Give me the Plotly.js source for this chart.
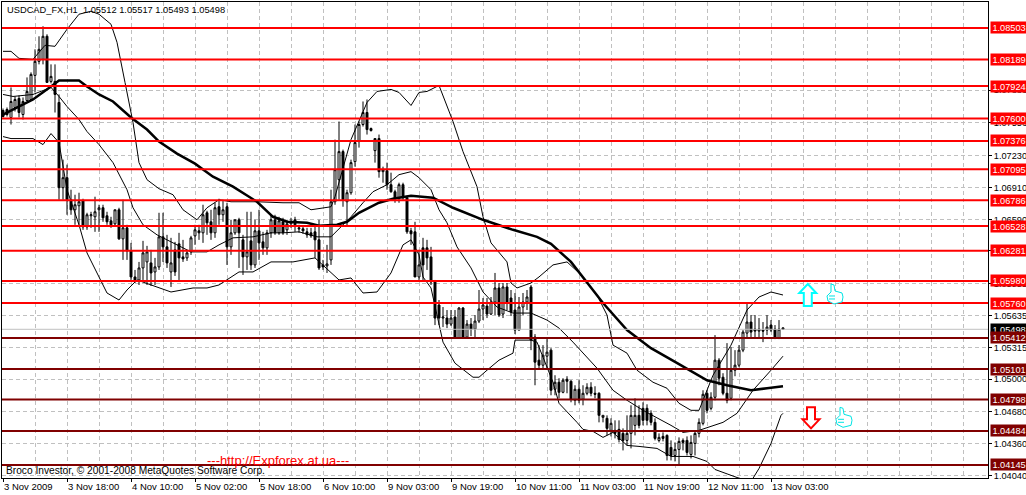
<!DOCTYPE html>
<html>
<head>
<meta charset="utf-8">
<script src="https://cdn.plot.ly/plotly-3.0.1.min.js"></script>
<style>
html, body { margin: 0; padding: 0; background: #fff; overflow: hidden; }
#graph { width: 1026px; height: 495px; }
</style>
</head>
<body>
<div id="graph"></div>
<script>
// hourly candles
var openPrice = [
1.0768,1.0769,1.0761,1.0771,1.0780,1.0764,1.0778,1.0779,1.0803,1.0817,
1.0819,1.0842,1.0797,1.0797,1.0776,1.0691,1.0701,1.0679,1.0669,1.0673,
1.0678,1.0652,1.0663,1.0662,1.0669,1.0671,1.0663,1.0658,1.0655,1.0669,
1.0640,1.0651,1.0628,1.0602,1.0599,1.0611,1.0617,1.0616,1.0607,1.0612,
1.0642,1.0632,1.0607,1.0629,1.0635,1.0622,1.0621,1.0627,1.0643,1.0648,
1.0646,1.0666,1.0657,1.0646,1.0672,1.0664,1.0672,1.0632,1.0646,1.0659,
1.0639,1.0622,1.0638,1.0614,1.0648,1.0637,1.0631,1.0646,1.0659,1.0646,
1.0657,1.0649,1.0655,1.0659,1.0651,1.0650,1.0647,1.0646,1.0647,1.0639,
1.0614,1.0613,1.0619,1.0677,1.0699,1.0727,1.0677,1.0686,1.0717,1.0737,
1.0754,1.0766,1.0750,1.0728,1.0740,1.0707,1.0708,1.0694,1.0687,1.0681,
1.0694,1.0681,1.0648,1.0647,1.0602,1.0631,1.0631,1.0622,1.0597,1.0574,
1.0561,1.0561,1.0555,1.0562,1.0541,1.0571,1.0542,1.0555,1.0550,1.0558,
1.0570,1.0573,1.0565,1.0577,1.0591,1.0565,1.0592,1.0581,1.0569,1.0549,
1.0572,1.0577,1.0592,1.0542,1.0519,1.0514,1.0523,1.0529,1.0490,1.0497,
1.0487,1.0500,1.0498,1.0479,1.0490,1.0480,1.0486,1.0492,1.0486,1.0486,
1.0462,1.0461,1.0449,1.0449,1.0450,1.0446,1.0439,1.0446,1.0454,1.0464,
1.0471,1.0471,1.0466,1.0457,1.0439,1.0443,1.0444,1.0432,1.0424,1.0430,
1.0439,1.0439,1.0425,1.0436,1.0446,1.0456,1.0486,1.0471,1.0482,1.0519,
1.0502,1.0486,1.0481,1.0509,1.0514,1.0529,1.0546,1.0557,1.0550,1.0548,
1.0549,1.0549,1.0554,1.0550,1.0541,1.05512
];
var highPrice = [
1.0770,1.0771,1.0791,1.0782,1.0783,1.0781,1.0801,1.0806,1.0829,1.0842,
1.0852,1.0844,1.0814,1.0814,1.0784,1.0719,1.0714,1.0689,1.0684,1.0686,
1.0680,1.0666,1.0667,1.0682,1.0674,1.0674,1.0667,1.0662,1.0669,1.0671,
1.0679,1.0654,1.0636,1.0609,1.0617,1.0638,1.0633,1.0629,1.0621,1.0666,
1.0666,1.0644,1.0641,1.0637,1.0646,1.0639,1.0629,1.0643,1.0654,1.0654,
1.0674,1.0668,1.0669,1.0676,1.0680,1.0679,1.0676,1.0659,1.0659,1.0661,
1.0644,1.0667,1.0667,1.0659,1.0669,1.0647,1.0649,1.0664,1.0664,1.0662,
1.0661,1.0659,1.0661,1.0662,1.0654,1.0653,1.0651,1.0651,1.0653,1.0659,
1.0619,1.0634,1.0689,1.0739,1.0757,1.0729,1.0689,1.0719,1.0754,1.0757,
1.0777,1.0779,1.0751,1.0740,1.0744,1.0712,1.0716,1.0706,1.0689,1.0696,
1.0696,1.0683,1.0651,1.0657,1.0629,1.0641,1.0639,1.0632,1.0599,1.0579,
1.0572,1.0569,1.0569,1.0569,1.0572,1.0572,1.0559,1.0561,1.0564,1.0589,
1.0581,1.0581,1.0582,1.0606,1.0596,1.0596,1.0596,1.0589,1.0586,1.0582,
1.0586,1.0589,1.0594,1.0545,1.0534,1.0534,1.0540,1.0531,1.0504,1.0501,
1.0501,1.0503,1.0499,1.0494,1.0499,1.0494,1.0496,1.0497,1.0493,1.0487,
1.0464,1.0464,1.0461,1.0459,1.0459,1.0451,1.0464,1.0474,1.0481,1.0474,
1.0477,1.0475,1.0469,1.0461,1.0446,1.0447,1.0445,1.0439,1.0437,1.0442,
1.0441,1.0443,1.0444,1.0449,1.0461,1.0489,1.0489,1.0487,1.0544,1.0521,
1.0506,1.0536,1.0532,1.0529,1.0534,1.0549,1.0575,1.0564,1.0564,1.0561,
1.0557,1.0564,1.0559,1.0554,1.0559,1.05517
];
var lowPrice = [
1.0761,1.0762,1.0754,1.0767,1.0761,1.0759,1.0778,1.0779,1.0786,1.0814,
1.0814,1.0796,1.0795,1.0766,1.0679,1.0679,1.0664,1.0664,1.0654,1.0654,
1.0649,1.0649,1.0651,1.0647,1.0647,1.0657,1.0654,1.0651,1.0653,1.0639,
1.0619,1.0619,1.0599,1.0596,1.0594,1.0599,1.0594,1.0593,1.0594,1.0609,
1.0617,1.0611,1.0592,1.0603,1.0599,1.0617,1.0618,1.0624,1.0634,1.0639,
1.0636,1.0644,1.0639,1.0641,1.0654,1.0657,1.0614,1.0624,1.0644,1.0611,
1.0604,1.0609,1.0609,1.0611,1.0619,1.0624,1.0624,1.0641,1.0644,1.0644,
1.0644,1.0644,1.0651,1.0647,1.0646,1.0645,1.0641,1.0641,1.0621,1.0609,
1.0609,1.0606,1.0614,1.0674,1.0679,1.0672,1.0653,1.0684,1.0712,1.0731,
1.0752,1.0744,1.0747,1.0716,1.0701,1.0696,1.0689,1.0686,1.0676,1.0676,
1.0679,1.0645,1.0634,1.0602,1.0599,1.0599,1.0609,1.0594,1.0554,1.0554,
1.0552,1.0551,1.0553,1.0541,1.0541,1.0541,1.0541,1.0543,1.0542,1.0556,
1.0559,1.0561,1.0564,1.0564,1.0562,1.0561,1.0569,1.0563,1.0545,1.0549,
1.0564,1.0569,1.0529,1.0494,1.0511,1.0511,1.0511,1.0484,1.0484,1.0481,
1.0486,1.0486,1.0477,1.0474,1.0476,1.0474,1.0484,1.0483,1.0481,1.0457,
1.0457,1.0444,1.0443,1.0441,1.0437,1.0429,1.0434,1.0431,1.0444,1.0451,
1.0454,1.0454,1.0454,1.0439,1.0437,1.0438,1.0419,1.0419,1.0418,1.0414,
1.0429,1.0424,1.0421,1.0424,1.0442,1.0454,1.0466,1.0469,1.0479,1.0494,
1.0484,1.0476,1.0479,1.0503,1.0512,1.0527,1.0542,1.0542,1.0542,1.0542,
1.0537,1.0544,1.0547,1.0540,1.0540,1.05493
];
var closePrice = [
1.0762,1.0764,1.0777,1.0779,1.0766,1.0777,1.0787,1.0804,1.0817,1.0829,
1.0842,1.0796,1.0802,1.0784,1.0691,1.0701,1.0679,1.0669,1.0674,1.0677,
1.0652,1.0664,1.0664,1.0667,1.0671,1.0661,1.0657,1.0654,1.0669,1.0640,
1.0651,1.0628,1.0602,1.0599,1.0611,1.0626,1.0627,1.0606,1.0612,1.0642,
1.0632,1.0616,1.0616,1.0607,1.0621,1.0620,1.0626,1.0641,1.0649,1.0646,
1.0664,1.0656,1.0646,1.0671,1.0664,1.0669,1.0632,1.0646,1.0659,1.0646,
1.0622,1.0627,1.0614,1.0648,1.0636,1.0631,1.0646,1.0659,1.0646,1.0658,
1.0646,1.0655,1.0657,1.0654,1.0650,1.0648,1.0644,1.0643,1.0639,1.0611,
1.0612,1.0615,1.0677,1.0709,1.0727,1.0679,1.0686,1.0716,1.0736,1.0754,
1.0766,1.0749,1.0748,1.0740,1.0707,1.0709,1.0694,1.0687,1.0680,1.0694,
1.0681,1.0647,1.0645,1.0602,1.0614,1.0614,1.0621,1.0597,1.0561,1.0561,
1.0562,1.0555,1.0561,1.0541,1.0571,1.0542,1.0555,1.0550,1.0558,1.0570,
1.0574,1.0565,1.0577,1.0591,1.0564,1.0592,1.0577,1.0567,1.0549,1.0572,
1.0577,1.0582,1.0539,1.0517,1.0514,1.0524,1.0527,1.0489,1.0497,1.0487,
1.0499,1.0498,1.0480,1.0490,1.0479,1.0486,1.0492,1.0486,1.0485,1.0464,
1.0464,1.0451,1.0456,1.0446,1.0440,1.0439,1.0446,1.0464,1.0464,1.0454,
1.0459,1.0459,1.0457,1.0441,1.0442,1.0441,1.0424,1.0424,1.0430,1.0438,
1.0437,1.0427,1.0437,1.0446,1.0457,1.0485,1.0469,1.0482,1.0519,1.0501,
1.0486,1.0479,1.0509,1.0514,1.0529,1.0547,1.0557,1.0547,1.0548,1.0550,
1.0548,1.0552,1.0549,1.0541,1.0550,1.05498
];

// moving average and bollinger bands, [bar, price] read at the bends
var maBar = [0,7.5,12,14,19,21,24,27.5,32,36,39,43.5,48,52.5,57.5,63.5,67.5,71,76,79,83.5,86,89,94,97.5,102,107.5,112.5,120,127.5,133.5,137,142,145,150,156,162,169,176,181,187,191,195];
var maPrice = [1.0764,1.0779,1.0792,1.0798,1.0798,1.0792,1.0784,1.0777,1.0761,1.0749,1.0737,1.0725,1.0715,1.0702,1.0692,1.0677,1.0662,1.0657,1.0656,1.0653,1.0654,1.0657,1.0666,1.0676,1.0680,1.0683,1.0681,1.0671,1.0659,1.0649,1.0642,1.0635,1.0617,1.0602,1.0576,1.0549,1.0531,1.0515,1.0499,1.0494,1.0489,1.0491,1.0493];

var upperBar = [0,2,4,7.5,10.5,13,16,19,22,24,27,28.5,30.5,32.5,34,36,39,42.5,45,48.5,51,54,57,63.5,70,74,77,82,83,87,91,93.5,97,99,102,104,106,109,112.5,115,118.5,120,122,126,127,128.5,132,134,137.5,141,144,148.5,151,152.5,156,158.5,162.5,166,169,172,174,177.5,182,186,189,192,195];
var upperPrice = [1.0827,1.0827,1.0820,1.0819,1.0833,1.0832,1.0849,1.0864,1.0867,1.0864,1.0854,1.0836,1.0796,1.0756,1.0716,1.0699,1.0690,1.0684,1.0669,1.0659,1.0671,1.0679,1.0677,1.0677,1.0676,1.0676,1.0669,1.0672,1.0682,1.0739,1.0776,1.0787,1.0789,1.0786,1.0773,1.0786,1.0787,1.0793,1.0757,1.0727,1.0692,1.0662,1.0636,1.0617,1.0596,1.0591,1.0596,1.0602,1.0614,1.0617,1.0606,1.0584,1.0564,1.0534,1.0526,1.0509,1.0497,1.0491,1.0476,1.0469,1.0469,1.0504,1.0534,1.0569,1.0582,1.0587,1.0584];

var middleBar = [0,2.5,7.5,12,14,16,19,21,24,27.5,31,32.5,35,38.5,42.5,47,51,54,57.5,62.5,67,70,74,78.5,82,87,90,92.5,96,99,102,104,107,109,111,113.5,117,120,123.5,127.5,132,136,139,142.5,148.5,152.5,156,160,167,170,174,180,183.5,187.5,192,195];
var middlePrice = [1.0784,1.0782,1.0784,1.0791,1.0782,1.0772,1.0759,1.0747,1.0734,1.0716,1.0689,1.0671,1.0654,1.0644,1.0636,1.0627,1.0627,1.0634,1.0641,1.0642,1.0646,1.0646,1.0647,1.0642,1.0642,1.0662,1.0676,1.0687,1.0694,1.0704,1.0707,1.0701,1.0689,1.0669,1.0656,1.0632,1.0611,1.0587,1.0572,1.0566,1.0566,1.0559,1.0551,1.0537,1.0511,1.0489,1.0479,1.0469,1.0454,1.0447,1.0449,1.0457,1.0466,1.0489,1.0509,1.0523];

var lowerBar = [0,2,7.5,10,12,14,16,19,21,24,26,29,31,33.5,38.5,42,47.5,51,54,59,62.5,67,72.5,78,84,87,90,93.5,97,100,102,104,105,107,110,113,117.5,119,121,124,127.5,128,132,133.5,137.5,139,143.5,145,147.5,150,152.5,156,159,163.5,167,172.5,176,178,183.5,187,189,192,194.5,195];
var lowerPrice = [1.0742,1.0740,1.0740,1.0734,1.0745,1.0736,1.0689,1.0654,1.0626,1.0601,1.0586,1.0579,1.0589,1.0599,1.0592,1.0587,1.0591,1.0591,1.0594,1.0607,1.0607,1.0617,1.0617,1.0621,1.0599,1.0601,1.0586,1.0587,1.0606,1.0634,1.0639,1.0624,1.0602,1.0591,1.0537,1.0516,1.0502,1.0502,1.0509,1.0519,1.0526,1.0539,1.0539,1.0537,1.0497,1.0476,1.0457,1.0450,1.0448,1.0442,1.0447,1.0434,1.0433,1.0431,1.0423,1.0423,1.0418,1.0410,1.0402,1.0398,1.0411,1.0436,1.0464,1.0466];

var redLevels = [1.08503,1.08189,1.07924,1.07600,1.07376,1.07095,1.06786,1.06528,1.06281,1.05980,1.05760];
var darkLevels = [1.05412,1.05101,1.04798,1.04484,1.04145];
var lastPrice = 1.05498;

var priceTicks = [1.07883,1.07556,1.07230,1.06910,1.06590,1.06281,1.05955,1.05635,1.05315,1.05000,1.04680,1.04360,1.04040];
var timeTickBars = [0,16,32,48,64,80,96,112,128,144,160,176,192];
var timeTickText = ['3 Nov 2009','3 Nov 18:00','4 Nov 10:00','5 Nov 02:00','5 Nov 18:00','6 Nov 10:00','9 Nov 03:00','9 Nov 19:00','10 Nov 11:00','11 Nov 03:00','11 Nov 19:00','12 Nov 11:00','13 Nov 03:00'];

var chartFont = 'Liberation Sans, Arial, sans-serif';
var barIndex = [];
for (var i = 0; i < openPrice.length; i++) {
    barIndex.push(i);
}

function makeLine(x, y, width) {
    return {
        x: x,
        y: y,
        type: 'scatter',
        mode: 'lines',
        line: { color: '#000000', width: width },
        hoverinfo: 'skip'
    };
}

var candles = {
    x: barIndex,
    open: openPrice,
    high: highPrice,
    low: lowPrice,
    close: closePrice,
    type: 'candlestick',
    increasing: { line: { color: '#000000', width: 1 }, fillcolor: '#ffffff' },
    decreasing: { line: { color: '#000000', width: 1 }, fillcolor: '#000000' },
    hoverinfo: 'skip'
};

var data = [
    candles,
    makeLine(upperBar, upperPrice, 1),
    makeLine(middleBar, middlePrice, 1),
    makeLine(lowerBar, lowerPrice, 1),
    makeLine(maBar, maPrice, 2.5)
];

var shapes = [];
var annotations = [];

function addLevel(price, color, textColor, width) {
    shapes.push({
        type: 'line', xref: 'paper', yref: 'y', x0: 0, x1: 1, y0: price, y1: price,
        line: { color: color, width: width }
    });
    annotations.push({
        xref: 'paper', yref: 'y', x: 1, y: price, xanchor: 'left', yanchor: 'middle',
        xshift: 2, width: 36, height: 11, align: 'center', showarrow: false,
        text: price.toFixed(5), bgcolor: color === '#c0c0c0' ? '#000000' : color, borderpad: 0,
        font: { family: chartFont, size: 9.2, color: textColor }
    });
}

addLevel(lastPrice, '#c0c0c0', '#ffffff', 1);
for (var r = 0; r < redLevels.length; r++) {
    addLevel(redLevels[r], '#ff0000', '#ffffff', 2);
}
for (var d = 0; d < darkLevels.length; d++) {
    addLevel(darkLevels[d], '#800000', '#ffffff', 2);
}

// arrows and thumbs placed by hand, path is in pixels round the anchor
function addIcon(bar, price, path, color, width) {
    shapes.push({
        type: 'path', xsizemode: 'pixel', ysizemode: 'pixel', xref: 'x', yref: 'y',
        xanchor: bar, yanchor: price, path: path, fillcolor: '#ffffff',
        line: { color: color, width: width }
    });
}
var thumbPath = 'M4,0 L7,-1 L8,-7 L15,-9 L16,-13 L15,-18 L7,-20 L1,-17 L0,-12 L4,-8 Z M2,-12 L8,-12 M2,-15 L8,-15';
addIcon(201.2, 1.0595, 'M0,0 L8.5,-9 L4,-9 L4,-22 L-4,-22 L-4,-9 L-8.5,-9 Z', '#00ffff', 2);
addIcon(202, 1.0451, 'M0,0 L8.5,9 L4,9 L4,21 L-4,21 L-4,9 L-8.5,9 Z', '#ff0000', 2);
addIcon(206, 1.0595, thumbPath, '#00e5e5', 1);
addIcon(208.25, 1.0472, thumbPath, '#00e5e5', 1);

annotations.push({
    xref: 'paper', yref: 'paper', x: 0, y: 0, xanchor: 'left', yanchor: 'bottom', xshift: 2, yshift: 0,
    showarrow: false, text: 'Broco Investor, © 2001-2008 MetaQuotes Software Corp.',
    font: { family: chartFont, size: 10.2, color: '#000000' }
});
annotations.push({
    xref: 'x', yref: 'paper', x: 50.5, y: 0, xanchor: 'left', yanchor: 'bottom', yshift: 8,
    showarrow: false, text: '---http://Expforex.at.ua---',
    font: { family: chartFont, size: 13, color: '#ff0000' }
});

var layout = {
    width: 1026,
    height: 495,
    margin: { l: 2, r: 38, t: 2, b: 17, pad: 0 },
    paper_bgcolor: '#ffffff',
    plot_bgcolor: '#ffffff',
    showlegend: false,
    title: {
        text: 'USDCAD_FX,H1  1.05512 1.05517 1.05493 1.05498',
        xref: 'container', yref: 'container', x: 7 / 1026, xanchor: 'left', y: 1 - 10 / 495, yanchor: 'middle',
        font: { family: chartFont, size: 9.3, color: '#000000' }
    },
    xaxis: {
        type: 'linear',
        range: [-0.25, 246.25],
        rangeslider: { visible: false },
        tickmode: 'array',
        tickvals: timeTickBars,
        ticktext: timeTickText,
        tickangle: 0,
        ticks: 'outside',
        ticklen: 3,
        tickcolor: '#000000',
        ticklabelposition: 'outside right',
        tickfont: { family: chartFont, size: 9.5, color: '#000000' },
        showgrid: true,
        gridcolor: '#c0c0c0',
        griddash: '4px,3px',
        minor: { dtick: 8, tick0: 0, showgrid: true, gridcolor: '#c0c0c0', griddash: '4px,3px', ticks: '' },
        showline: true,
        linecolor: '#000000',
        linewidth: 1,
        mirror: true,
        zeroline: false
    },
    yaxis: {
        side: 'right',
        range: [1.04015, 1.08762],
        tickmode: 'array',
        tickvals: priceTicks,
        ticktext: priceTicks.map(function (p) { return p.toFixed(5); }),
        ticks: 'outside',
        ticklen: 3,
        tickcolor: '#000000',
        tickfont: { family: chartFont, size: 9.2, color: '#000000' },
        showgrid: true,
        gridcolor: '#c0c0c0',
        griddash: '4px,3px',
        showline: true,
        linecolor: '#000000',
        linewidth: 1,
        mirror: true,
        zeroline: false
    },
    shapes: shapes,
    annotations: annotations
};

Plotly.newPlot('graph', data, layout, { displayModeBar: false, staticPlot: true });
</script>
</body>
</html>
